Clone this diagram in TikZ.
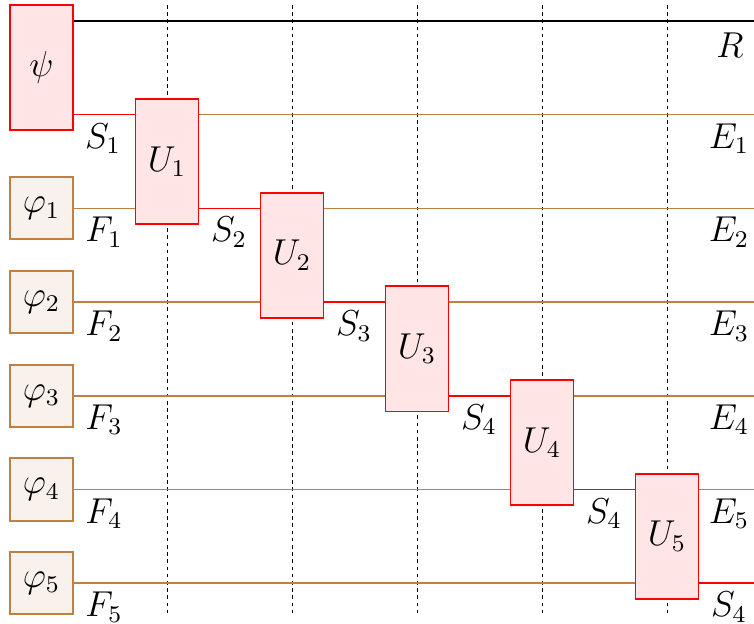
\documentclass[tikz,border=0pt]{standalone}
\usetikzlibrary{positioning}

\begin{document}
\begin{tikzpicture}[x=0.3333pt, y=-0.3333pt, font=\large,
  gate/.style={draw=red, fill=red!10, line width=0.65pt, minimum width=21pt, minimum height=41.7pt, inner sep=0pt},
  prep/.style={draw=brown, fill=brown!10, line width=0.65pt, minimum width=21pt, minimum height=20.7pt, inner sep=0pt},
  wire/.style={brown, line width=0.5pt},
  swire/.style={red, line width=0.5pt},
  guide/.style={dash pattern=on 1.2pt off 1.2pt, line width=0.3pt}]
\useasboundingbox (0,0) rectangle (754,624);

% vertical guides
\foreach \k in {1,...,5}
  \draw[guide] ({167+125*(\k-1)},5) -- ({167+125*(\k-1)},615);

% wire ends
\foreach \i in {0,...,6}
  \coordinate (r\i) at (754,{21+93.7*\i});

% boxes
\node[gate] (psi) at (41.5,67.5) {$\psi$};
\foreach \k in {1,...,5}
  \node[prep] (phi\k) at (41.5,{21+93.7*(\k+1)}) {$\varphi_{\k}$};
\foreach \k in {1,...,5}
  \node[gate] (U\k) at ({167+125*(\k-1)},{67.85+93.7*\k}) {$U_{\k}$};

% wires
\draw[line width=0.5pt] (psi.east |- r0) -- (r0);
\draw[swire] (psi.east |- r1) -- (U1.west |- r1);
\foreach \k [evaluate=\k as \j using int(\k+1)] in {1,...,5} {
  \draw[wire] (phi\k.east) -- (U\k.west |- r\j);
  \draw[wire] (U\k.east |- r\k) -- (r\k);
}
\foreach \k [evaluate=\k as \j using int(\k+1)] in {1,...,4}
  \draw[swire] (U\k.east |- r\j) -- (U\j.west |- r\j);
\draw[swire] (U5.east |- r6) -- (r6);

% labels
\node (lR) at (730,45) {$R$};
\node (lS1) at (103,139) {$S_1$};
\foreach \k in {1,...,5} {
  \node (lF\k) at (104,{45+93.7*(\k+1)}) {$F_{\k}$};
  \node (lE\k) at (729,{45+93.7*\k}) {$E_{\k}$};
}
\node (lS2) at (229,{45+93.7*2}) {$S_2$};
\node (lS3) at (354,{45+93.7*3}) {$S_3$};
\node (lS4) at (479,{45+93.7*4}) {$S_4$};
\node (lS5) at (604,{45+93.7*5}) {$S_4$};
\node (lS6) at (729,{45+93.7*6}) {$S_4$};
\end{tikzpicture}
\end{document}
